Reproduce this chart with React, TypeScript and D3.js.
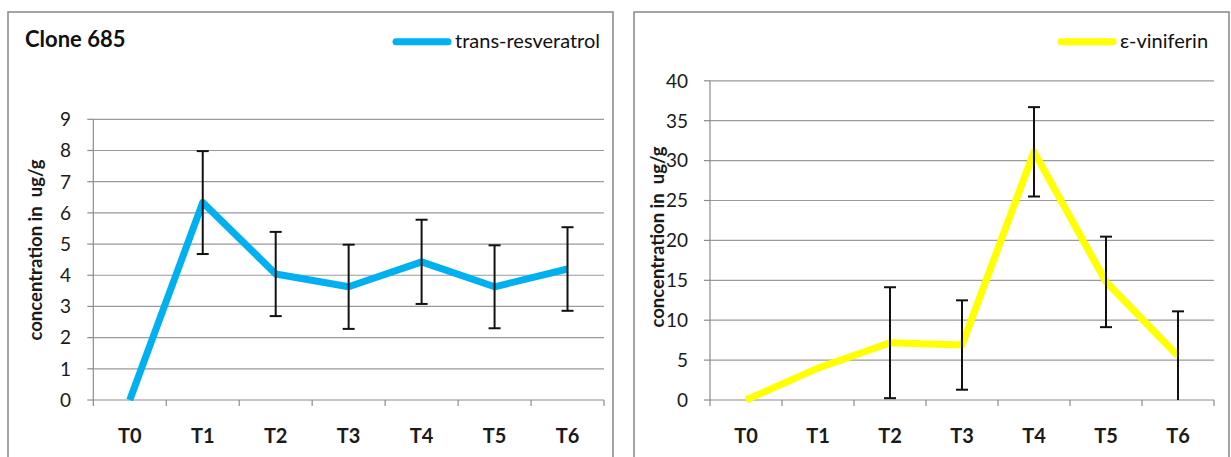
import React from "react";
import * as d3 from "d3";

const categories = ["T0", "T1", "T2", "T3", "T4", "T5", "T6"];
const resveratrolMean = [0, 6.33, 4.04, 3.63, 4.43, 3.63, 4.2];
const resveratrolErr = [0, 1.65, 1.35, 1.35, 1.35, 1.33, 1.34];
const viniferinMean = [0, 4.0, 7.18, 6.89, 31.1, 14.8, 5.51];
const viniferinErr = [0, 0, 6.95, 5.6, 5.6, 5.67, 5.6];
const resveratrolTicks = [0, 1, 2, 3, 4, 5, 6, 7, 8, 9];
const viniferinTicks = [0, 5, 10, 15, 20, 25, 30, 35, 40];

const FONT = "Lato, 'Open Sans', sans-serif";

type PanelProps = {
  box: [number, number, number, number];
  plot: { x0: number; x1: number; y0: number; y1: number };
  domainMax: number;
  ticks: number[];
  mean: number[];
  err: number[];
  color: string;
  seriesName: string;
  legendX: number;
  title?: string;
  yLabelPos: [number, number];
  tickLabelX: number;
};

function Panel(p: PanelProps) {
  const x = d3
    .scaleBand<string>()
    .domain(categories)
    .range([p.plot.x0, p.plot.x1])
    .paddingInner(0)
    .paddingOuter(0);
  const y = d3.scaleLinear().domain([0, p.domainMax]).range([p.plot.y0, p.plot.y1]);
  const cx = (c: string) => (x(c) as number) + x.bandwidth() / 2;
  const line = d3
    .line<number>()
    .x((_, i) => cx(categories[i]))
    .y((d) => y(d));
  const [bx, by, bw, bh] = p.box;
  const boundaries = categories.map((c) => x(c) as number).concat([p.plot.x1]);

  return (
    <g>
      <rect x={bx} y={by} width={bw} height={bh} fill="#fff" stroke="#878787" strokeWidth={1.5} />
      {p.ticks.map((t) => (
        <g key={t}>
          {t > 0 && (
            <line x1={p.plot.x0} x2={p.plot.x1} y1={y(t)} y2={y(t)} stroke="#9a9a9a" strokeWidth={1.2} />
          )}
          <line x1={p.plot.x0 - 6} x2={p.plot.x0} y1={y(t)} y2={y(t)} stroke="#8c8c8c" strokeWidth={1.2} />
          <text
            x={p.tickLabelX}
            y={y(t)}
            dy="0.36em"
            textAnchor="end"
            fontFamily={FONT}
            fontSize={19}
            fill="#1a1a1a"
          >
            {t}
          </text>
        </g>
      ))}
      <line x1={p.plot.x0} x2={p.plot.x0} y1={p.plot.y0} y2={p.plot.y1} stroke="#8c8c8c" strokeWidth={1.2} />
      <line x1={p.plot.x0} x2={p.plot.x1} y1={p.plot.y0} y2={p.plot.y0} stroke="#8c8c8c" strokeWidth={1.2} />
      {boundaries.map((b, i) => (
        <line key={i} x1={b} x2={b} y1={p.plot.y0} y2={p.plot.y0 + 6} stroke="#8c8c8c" strokeWidth={1.2} />
      ))}
      {categories.map((c) => (
        <text
          key={c}
          x={cx(c)}
          y={443}
          textAnchor="middle"
          fontFamily={FONT}
          fontWeight="bold"
          fontSize={20}
          fill="#1a1a1a"
        >
          {c}
        </text>
      ))}
      <text
        transform={`translate(${p.yLabelPos[0]},${p.yLabelPos[1]}) rotate(-90)`}
        textAnchor="middle"
        dy="0.36em"
        fontFamily={FONT}
        fontWeight="bold"
        fontSize={18.5}
        fill="#1a1a1a"
        style={{ whiteSpace: "pre" }}
      >
        {"concentration in  ug/g"}
      </text>
      <path
        d={line(p.mean) || ""}
        fill="none"
        stroke={p.color}
        strokeWidth={7}
        strokeLinejoin="round"
      />
      {p.mean.map((m, i) => {
        const e = p.err[i];
        if (!e) return null;
        const xc = cx(categories[i]);
        const hiV = m + e;
        const loV = m - e;
        const lo = y(Math.max(0, loV));
        const hi = y(hiV);
        return (
          <g key={i} stroke="#111" strokeWidth={2}>
            <line x1={xc} x2={xc} y1={hi} y2={lo} />
            <line x1={xc - 6} x2={xc + 6} y1={hi} y2={hi} />
            {loV >= 0 && <line x1={xc - 6} x2={xc + 6} y1={lo} y2={lo} />}
          </g>
        );
      })}
      {p.title && (
        <text x={bx + 17} y={47.3} fontFamily={FONT} fontSize={22} fontWeight="bold" fill="#111">
          {p.title}
        </text>
      )}
      <line
        x1={p.legendX + 3}
        x2={p.legendX + 55}
        y1={41.7}
        y2={41.7}
        stroke={p.color}
        strokeWidth={7}
        strokeLinecap="round"
      />
      <text x={p.legendX + 62} y={48.3} fontFamily={FONT} fontSize={20} fill="#111">
        {p.seriesName}
      </text>
    </g>
  );
}

export default function App() {
  return (
    <svg
      width={1231}
      height={457}
      style={{ position: "absolute", left: 0, top: 0, background: "#fff" }}
    >
      <Panel
        box={[8, 12, 605, 460]}
        plot={{ x0: 93.3, x1: 604, y0: 400, y1: 119.3 }}
        domainMax={9}
        ticks={resveratrolTicks}
        mean={resveratrolMean}
        err={resveratrolErr}
        color="#00B0F0"
        seriesName="trans-resveratrol"
        legendX={393}
        title="Clone 685"
        yLabelPos={[35, 250]}
        tickLabelX={71}
      />
      <Panel
        box={[634, 12, 595, 460]}
        plot={{ x0: 710, x1: 1214, y0: 400, y1: 80.8 }}
        domainMax={40}
        ticks={viniferinTicks}
        mean={viniferinMean}
        err={viniferinErr}
        color="#FFFF00"
        seriesName="ε-viniferin"
        legendX={1058}
        yLabelPos={[657, 237]}
        tickLabelX={688}
      />
    </svg>
  );
}
